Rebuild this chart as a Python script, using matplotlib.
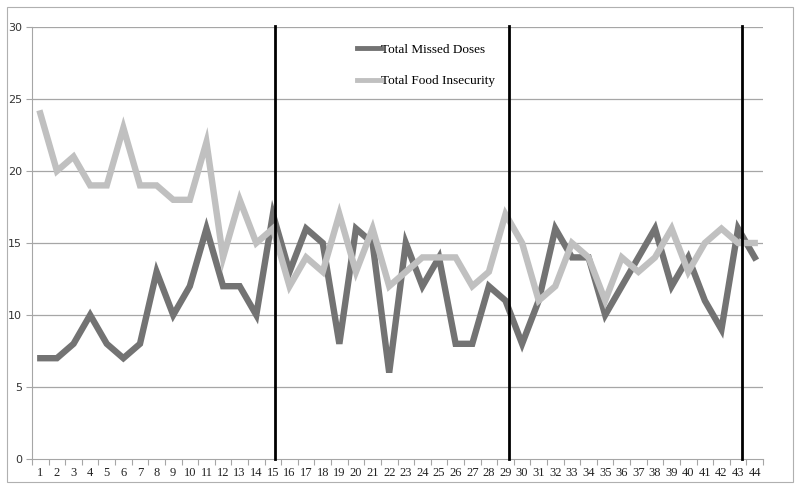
import matplotlib
matplotlib.use("Agg")
import matplotlib.pyplot as plt
from matplotlib.patches import Rectangle
import numpy as np

weeks = list(range(1, 45))
missed_doses = [7, 7, 8, 10, 8, 7, 8, 13, 10, 12, 16, 12, 12, 10, 17, 13, 16, 15, 8, 16,
                15, 6, 15, 12, 14, 8, 8, 12, 11, 8, 11, 16, 14, 14, 10, 12, 14, 16, 12, 14,
                11, 9, 16, 14]
food_insecurity = [24, 20, 21, 19, 19, 23, 19, 19, 18, 18, 22, 14, 18, 15, 16, 12, 14, 13, 17, 13,
                   16, 12, 13, 14, 14, 14, 12, 13, 17, 15, 11, 12, 15, 14, 11, 14, 13, 14, 16, 13,
                   15, 16, 15, 15]
phase_breaks = [15.1, 29.2, 43.25]
y_ticks = [0, 5, 10, 15, 20, 25, 30]

fig = plt.figure(figsize=(8, 4.9), dpi=100)
# outer chart border
fig.patches.append(Rectangle((7/800, 1-482/490), (793-7)/800, (482-7)/490,
                             transform=fig.transFigure, fill=False,
                             edgecolor="#b0b0b0", linewidth=0.8))
ax = fig.add_axes([32/800, 1-459/490, (763-32)/800, (459-27)/490])

for y in y_ticks[1:]:
    ax.axhline(y, color="#a6a6a6", linewidth=0.9, zorder=1)

ax.plot(weeks, missed_doses, color="#737373", linewidth=4.6, solid_joinstyle="miter",
        label="Total Missed Doses", zorder=3)
ax.plot(weeks, food_insecurity, color="#c0c0c0", linewidth=4.6, solid_joinstyle="miter",
        label="Total Food Insecurity", zorder=4)

for xb in phase_breaks:
    ax.plot([xb, xb], [0, 30.1], color="black", linewidth=2.0, zorder=5, clip_on=False)

ax.set_xlim(0.5, 44.5)
ax.set_ylim(0, 30)
ax.set_yticks(y_ticks)
ax.set_yticklabels([str(v) for v in y_ticks], fontsize=8, color="#333333",
                   family="DejaVu Sans")
ax.set_xticks(weeks)
ax.set_xticklabels([str(w) for w in weeks], fontsize=9, family="Liberation Serif",
                   color="#222222")
ax.set_xticks(np.arange(0.5, 45, 1), minor=True)
ax.tick_params(axis="x", which="major", length=0, pad=6)
ax.tick_params(axis="x", which="minor", length=4, color="#a6a6a6", width=0.8)
ax.tick_params(axis="y", length=4, color="#a6a6a6", width=0.8, pad=3)

for s in ["top", "right"]:
    ax.spines[s].set_visible(False)
ax.spines["left"].set_color("#a6a6a6")
ax.spines["bottom"].set_color("#a6a6a6")
ax.spines["left"].set_linewidth(0.8)
ax.spines["bottom"].set_linewidth(0.8)

leg = ax.legend(loc="upper left", bbox_to_anchor=(345/800, 1-32/490),
                bbox_transform=fig.transFigure, frameon=False,
                handlelength=1.8, handletextpad=0.05, labelspacing=1.45,
                prop={"family": "Liberation Serif", "size": 9.5})
for line in leg.get_lines():
    line.set_linewidth(3.5)

fig.savefig("out.png", dpi=100)
